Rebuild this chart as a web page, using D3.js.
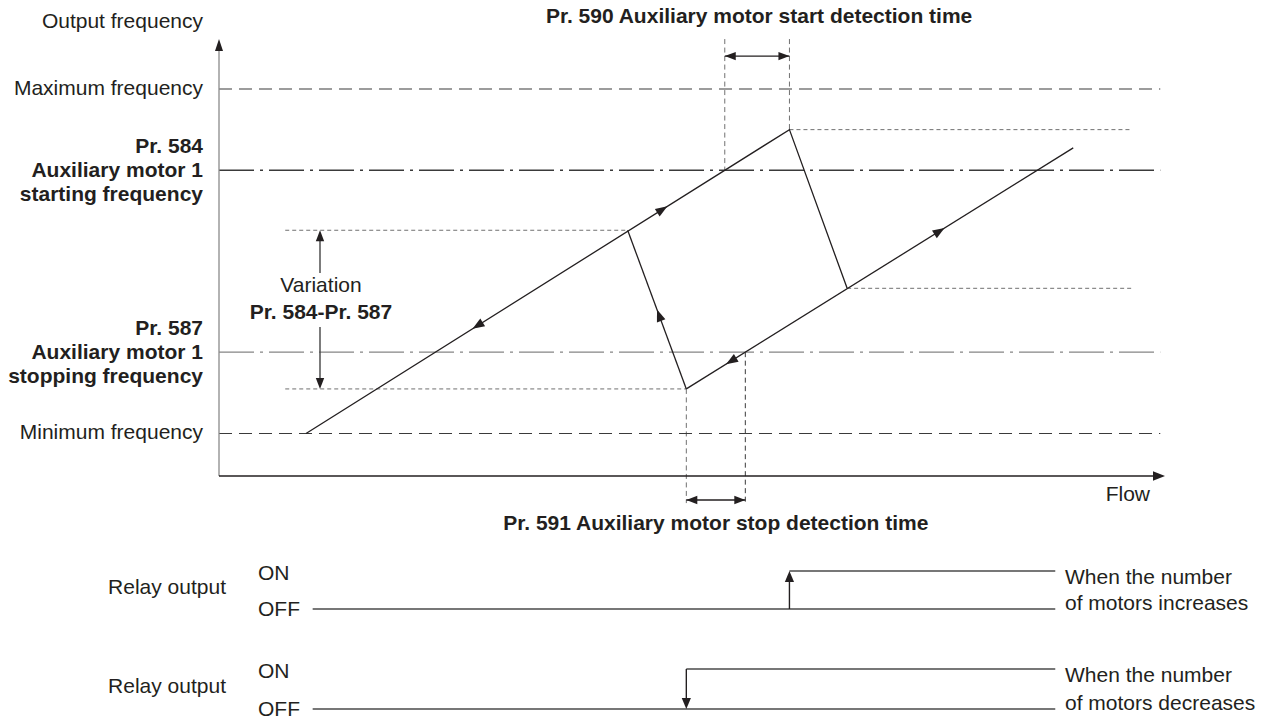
<!DOCTYPE html>
<html>
<head>
<meta charset="utf-8">
<script src="https://cdn.jsdelivr.net/npm/d3@7"></script>
<style>
  html, body { margin: 0; padding: 0; background: #ffffff; }
  svg { display: block; font-family: "Liberation Sans", Arial, sans-serif; }
</style>
</head>
<body>
<svg id="chart" width="1265" height="720"></svg>
<script>
// ---- Frequency levels on the vertical axis (percent of maximum frequency) ----
const levelLabels = [
  ["Maximum frequency"],
  ["Pr. 584", "Auxiliary motor 1", "starting frequency"],
  ["Pr. 587", "Auxiliary motor 1", "stopping frequency"],
  ["Minimum frequency"]
];
const levelValues = [100, 79, 32, 11];
const levelTypes = ["limit", "start", "stop", "limit"];

// ---- Operating path (flow %, output frequency %) ----
// Inverter alone: frequency climbs with flow up to the peak, then drops when aux motor 1 starts
const risingFlow = [9.2, 60.3, 66.4];
const risingFreq = [11, 89.5, 48.5];
// Inverter plus auxiliary motor 1 running
const branchFlow = [49.4, 90.3];
const branchFreq = [22.5, 84.8];
// Jump back up when auxiliary motor 1 stops
const stopJumpFlow = [49.4, 43.2];
const stopJumpFreq = [22.5, 63.5];

// Direction arrows along the path: which line, flow at the arrow tip, +1 forward / -1 backward
const arrowLine = ["rising", "rising", "branch", "branch", "jump"];
const arrowAt = [47.4, 26.8, 76.7, 53.6, 46.3];
const arrowDir = [1, -1, 1, -1, 1];

// Guide extents (flow %) and axis extents
const guideFrom = 7.0, guideTo = 96.5;
const levelLineTo = 99.5;
const freqAxisTop = 112.9;

// ---- Relay output timing rows ----
const relayTitle = "Relay output";
const relayStates = ["ON", "OFF"];
const relayNotes = [["When the number", "of motors increases"], ["When the number", "of motors decreases"]];
const relayFrom = 9.9, relayTo = 88.4;

// ---- Titles ----
const startTimeTitle = "Pr. 590 Auxiliary motor start detection time";
const stopTimeTitle = "Pr. 591 Auxiliary motor stop detection time";
const yTitle = "Output frequency";
const xTitle = "Flow";
const variationLabel = ["Variation", "Pr. 584-Pr. 587"];

// ======================================================================
const INK = "#231f20";
const DARK = "#3a3a3a";
const GREY = "#858585";
const svg = d3.select("#chart");

const x = d3.scaleLinear().domain([0, 100]).range([219, 1165]);
const y = d3.scaleLinear().domain([0, 100]).range([476, 89]);

function arrowHead(g, tx, ty, ang, len, half, fill) {
  const bx = tx - len * Math.cos(ang), by = ty - len * Math.sin(ang);
  const px = -Math.sin(ang) * half, py = Math.cos(ang) * half;
  g.append("path")
    .attr("d", `M${tx},${ty}L${bx + px},${by + py}L${bx - px},${by - py}Z`)
    .attr("fill", fill);
}
function hLine(g, f0, f1, v, color, dash, w) {
  g.append("line").attr("x1", x(f0)).attr("x2", x(f1)).attr("y1", y(v)).attr("y2", y(v))
    .attr("stroke", color).attr("stroke-width", w || 1).attr("stroke-dasharray", dash || null);
}
function vLine(g, f, v0, v1, color, dash, w) {
  g.append("line").attr("x1", x(f)).attr("x2", x(f)).attr("y1", y(v0)).attr("y2", y(v1))
    .attr("stroke", color).attr("stroke-width", w || 1).attr("stroke-dasharray", dash || null);
}
function text(g, str, px, py, anchor, bold) {
  return g.append("text").attr("x", px).attr("y", py).attr("text-anchor", anchor || "start")
    .attr("font-size", 21).attr("font-weight", bold ? "bold" : "normal").attr("fill", INK).text(str);
}

const gGuide = svg.append("g");
const gLevels = svg.append("g");
const gPath = svg.append("g");
const gAxes = svg.append("g");
const gText = svg.append("g");
const gRelay = svg.append("g");

// ---- Frequency level lines and their labels ----
levelValues.forEach((v, i) => {
  const t = levelTypes[i];
  if (t === "limit") hLine(gLevels, 0, levelLineTo, v, DARK, "13,7", 1.1);
  else hLine(gLevels, 0, levelLineTo, v, t === "start" ? DARK : GREY, "35,6,3,6", 1.3);
  const lines = levelLabels[i];
  lines.forEach((s, j) => {
    const base = lines.length === 1 ? y(v) + 6 : y(v) + 7 + (j - 1) * 24;
    text(gText, s, 203, base, "end", lines.length > 1);
  });
});

// ---- Path geometry helpers ----
const lines = {
  rising: [[risingFlow[0], risingFreq[0]], [risingFlow[1], risingFreq[1]]],
  branch: [[branchFlow[0], branchFreq[0]], [branchFlow[1], branchFreq[1]]],
  jump: [[stopJumpFlow[0], stopJumpFreq[0]], [stopJumpFlow[1], stopJumpFreq[1]]]
};
function freqOn(seg, f) {
  const [[a, b], [c, d]] = seg;
  return b + (d - b) * (f - a) / (c - a);
}
function flowAtFreq(seg, v) {
  const [[a, b], [c, d]] = seg;
  return a + (c - a) * (v - b) / (d - b);
}

// ---- Dotted guide lines at the switching points ----
const GUIDE = "#707070";
hLine(gGuide, guideFrom, stopJumpFlow[1], stopJumpFreq[1], GUIDE, "4,3", 1);
hLine(gGuide, guideFrom, stopJumpFlow[0], stopJumpFreq[0], GUIDE, "4,3", 1);
hLine(gGuide, risingFlow[1], guideTo, risingFreq[1], GUIDE, "4,3", 1);
hLine(gGuide, risingFlow[2], guideTo, risingFreq[2], GUIDE, "4,3", 1);

// Start detection time: from crossing the starting frequency to the peak
const startCross = flowAtFreq(lines.rising, levelValues[1]);
const startBracket = 108.5, stopBracket = -6.2, stopGuideEnd = -7.0;
vLine(gGuide, startCross, freqAxisTop, levelValues[1], GUIDE, "5,3.5", 1);
vLine(gGuide, risingFlow[1], freqAxisTop, risingFreq[1], GUIDE, "5,3.5", 1);
// Stop detection time: from crossing the stopping frequency down to the valley
const stopCross = flowAtFreq(lines.branch, levelValues[2]);
vLine(gGuide, stopJumpFlow[0], stopJumpFreq[0], stopGuideEnd, GUIDE, "5,3.5", 1);
vLine(gGuide, stopCross, levelValues[2], stopGuideEnd, DARK, "5,3.5", 1);

function bracket(f0, f1, v) {
  hLine(gAxes, f0, f1, v, INK, null, 1.3);
  arrowHead(gAxes, x(f0), y(v), Math.PI, 11, 4.2, INK);
  arrowHead(gAxes, x(f1), y(v), 0, 11, 4.2, INK);
}
bracket(startCross, risingFlow[1], startBracket);
bracket(stopJumpFlow[0], stopCross, stopBracket);

// ---- Operating path ----
const lineGen = d3.line().x(d => x(d[0])).y(d => y(d[1]));
gPath.append("path")
  .attr("d", lineGen(risingFlow.map((f, i) => [f, risingFreq[i]])))
  .attr("fill", "none").attr("stroke", INK).attr("stroke-width", 1.3);
gPath.append("path")
  .attr("d", lineGen(branchFlow.map((f, i) => [f, branchFreq[i]])))
  .attr("fill", "none").attr("stroke", INK).attr("stroke-width", 1.3);
gPath.append("path")
  .attr("d", lineGen(stopJumpFlow.map((f, i) => [f, stopJumpFreq[i]])))
  .attr("fill", "none").attr("stroke", INK).attr("stroke-width", 1.3);

arrowLine.forEach((name, i) => {
  const seg = lines[name];
  const f = arrowAt[i];
  const v = freqOn(seg, f);
  const dx = x(seg[1][0]) - x(seg[0][0]), dy = y(seg[1][1]) - y(seg[0][1]);
  let ang = Math.atan2(dy, dx);
  if (arrowDir[i] < 0) ang += Math.PI;
  arrowHead(gPath, x(f), y(v), ang, 12, 4.5, INK);
});

// ---- Axes ----
gAxes.append("line").attr("x1", x(0)).attr("x2", x(0)).attr("y1", y(0)).attr("y2", y(freqAxisTop) + 8)
  .attr("stroke", "#8a8a8a").attr("stroke-width", 1.3);
arrowHead(gAxes, x(0), y(freqAxisTop), -Math.PI / 2, 12, 4, INK);
gAxes.append("line").attr("x1", x(0)).attr("x2", x(100) - 8).attr("y1", y(0)).attr("y2", y(0))
  .attr("stroke", INK).attr("stroke-width", 1.3);
arrowHead(gAxes, x(100), y(0), 0, 12, 4.8, INK);

text(gText, yTitle, 203, 28, "end", false);
text(gText, xTitle, 1150, 501, "end", false);

// Variation of Pr. 584 - Pr. 587 with arrows to the guides
const varFlow = (320 - 219) / 946 * 100;
const vx = x(varFlow);
gAxes.append("line").attr("x1", vx).attr("x2", vx).attr("y1", y(stopJumpFreq[1]) + 8).attr("y2", 273)
  .attr("stroke", "#444").attr("stroke-width", 1.4);
arrowHead(gAxes, vx, y(stopJumpFreq[1]), -Math.PI / 2, 11, 4.2, INK);
gAxes.append("line").attr("x1", vx).attr("x2", vx).attr("y1", 327).attr("y2", y(stopJumpFreq[0]) - 8)
  .attr("stroke", "#444").attr("stroke-width", 1.4);
arrowHead(gAxes, vx, y(stopJumpFreq[0]), Math.PI / 2, 11, 4.2, INK);
text(gText, variationLabel[0], vx + 1, 292, "middle", false);
text(gText, variationLabel[1], vx + 1, 319, "middle", true);

// Detection time titles, centred over their brackets
const startMid = (x(startCross) + x(risingFlow[1])) / 2;
const stopMid = (x(stopJumpFlow[0]) + x(stopCross)) / 2;
text(gText, startTimeTitle, startMid + 2, 23, "middle", true);
text(gText, stopTimeTitle, stopMid, 530, "middle", true);

// ---- Relay output rows ----
const relayOn = [571, 669], relayOff = [609, 709];
const relaySwitch = [risingFlow[1], stopJumpFlow[0]];
const RELAY = "#4a4a4a";
relayOn.forEach((onY, i) => {
  const offY = relayOff[i];
  const sx = x(relaySwitch[i]);
  gRelay.append("line").attr("x1", x(relayFrom)).attr("x2", x(relayTo)).attr("y1", offY).attr("y2", offY)
    .attr("stroke", RELAY).attr("stroke-width", 1.4);
  gRelay.append("line").attr("x1", sx).attr("x2", x(relayTo)).attr("y1", onY).attr("y2", onY)
    .attr("stroke", RELAY).attr("stroke-width", 1.4);
  if (i === 0) {
    gRelay.append("line").attr("x1", sx).attr("x2", sx).attr("y1", offY).attr("y2", onY + 8)
      .attr("stroke", INK).attr("stroke-width", 1.4);
    arrowHead(gRelay, sx, onY, -Math.PI / 2, 11, 4.6, INK);
  } else {
    gRelay.append("line").attr("x1", sx).attr("x2", sx).attr("y1", onY).attr("y2", offY - 8)
      .attr("stroke", INK).attr("stroke-width", 1.4);
    arrowHead(gRelay, sx, offY, Math.PI / 2, 11, 4.6, INK);
  }
  text(gRelay, relayTitle, 226, (onY + offY) / 2 + 4, "end", false);
  text(gRelay, relayStates[0], 258, onY + 8.5, "start", false);
  text(gRelay, relayStates[1], 258, offY + 6.5, "start", false);
  text(gRelay, relayNotes[i][0], 1065, onY + 13, "start", false);
  text(gRelay, relayNotes[i][1], 1065, offY + 1, "start", false);
});
</script>
</body>
</html>
